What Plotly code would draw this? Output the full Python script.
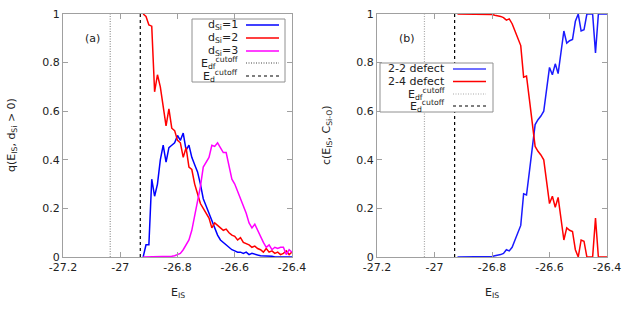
import plotly.graph_objects as go

# ---------------- data ----------------
E = [-26.92, -26.91, -26.90, -26.89, -26.88, -26.87, -26.86, -26.85, -26.84, -26.83,
     -26.82, -26.81, -26.80, -26.79, -26.78, -26.77, -26.76, -26.75, -26.74, -26.73,
     -26.72, -26.71, -26.70, -26.69, -26.68, -26.67, -26.66, -26.65, -26.64, -26.63,
     -26.62, -26.61, -26.60, -26.59, -26.58, -26.57, -26.56, -26.55, -26.54, -26.53,
     -26.52, -26.51, -26.50, -26.49, -26.48, -26.47, -26.46, -26.45, -26.44, -26.43,
     -26.42, -26.41, -26.40]

q_d1 = [0.0, 0.05, 0.05, 0.32, 0.25, 0.30, 0.40, 0.46, 0.39, 0.45,
        0.46, 0.47, 0.50, 0.48, 0.51, 0.44, 0.46, 0.41, 0.38, 0.35,
        0.30, 0.24, 0.21, 0.18, 0.15, 0.12, 0.09, 0.07, 0.06, 0.05,
        0.04, 0.03, 0.025, 0.02, 0.02, 0.015, 0.02, 0.01, 0.015, 0.01,
        0.008, 0.005, 0.005, 0.005, 0.002, 0.003, 0.0, 0.0, 0.0, 0.0,
        0.0, 0.0, 0.0]

q_d2 = [1.0, 0.99, 0.955, 0.95, 0.68, 0.75, 0.70, 0.62, 0.54, 0.61,
        0.53, 0.52, 0.48, 0.47, 0.41, 0.45, 0.37, 0.36, 0.30, 0.26,
        0.22, 0.20, 0.18, 0.16, 0.12, 0.14, 0.13, 0.12, 0.11, 0.115,
        0.10, 0.09, 0.085, 0.07, 0.08, 0.06, 0.055, 0.05, 0.04, 0.045,
        0.035, 0.03, 0.02, 0.035, 0.02, 0.025, 0.015, 0.02, 0.01, 0.015,
        0.025, 0.01, 0.02]

q_d3 = [0.0, 0.0, 0.0, 0.0, 0.0, 0.0, 0.0, 0.0, 0.0, 0.0,
        0.003, 0.005, 0.01, 0.015, 0.03, 0.05, 0.07, 0.11, 0.17, 0.22,
        0.29, 0.37, 0.39, 0.41, 0.46, 0.455, 0.47, 0.45, 0.43, 0.43,
        0.38, 0.32, 0.30, 0.27, 0.24, 0.21, 0.18, 0.14, 0.12, 0.135,
        0.11, 0.08, 0.06, 0.04, 0.05, 0.03, 0.04, 0.035, 0.04, 0.04,
        0.01, 0.03, 0.02]

c_22 = [0.0, 0.0, 0.0, 0.0, 0.0, 0.0, 0.0, 0.0, 0.0, 0.0,
        0.0, 0.0, 0.002, 0.005, 0.007, 0.01, 0.015, 0.03, 0.025, 0.04,
        0.07, 0.10, 0.13, 0.26, 0.255, 0.35, 0.45, 0.545, 0.565, 0.58,
        0.60, 0.70, 0.78, 0.75, 0.795, 0.755, 0.85, 0.93, 0.88, 0.89,
        0.895, 0.97, 1.0, 0.93, 0.935, 1.0, 1.0, 1.0, 0.84, 1.0,
        1.0, 1.0, 1.0]

c_24 = [1.0, 1.0, 1.0, 1.0, 1.0, 1.0, 1.0, 1.0, 1.0, 1.0,
        1.0, 1.0, 0.998, 0.995, 0.993, 0.99, 0.985, 0.975, 0.98, 0.96,
        0.93, 0.90, 0.87, 0.74, 0.745, 0.65, 0.55, 0.455, 0.435, 0.42,
        0.40, 0.30, 0.22, 0.25, 0.205, 0.245, 0.15, 0.07, 0.12, 0.11,
        0.105, 0.03, 0.0, 0.07, 0.065, 0.0, 0.0, 0.0, 0.16, 0.0,
        0.0, 0.0, 0.0]

E_df_cutoff = -27.035
E_d_cutoff = -26.93

x_ticks = [-27.2, -27.0, -26.8, -26.6, -26.4]
x_tick_text = ["-27.2", "-27", "-26.8", "-26.6", "-26.4"]
y_ticks = [0, 0.2, 0.4, 0.6, 0.8, 1.0]
y_tick_text = ["0", "0.2", "0.4", "0.6", "0.8", "1"]

# ---------------- layout helpers ----------------
W, H = 629, 314
FONT = "DejaVu Sans"
FS = 11
DOT = "1px,1.5px"
DASH = "3px,3px"


def px(x):
    return x / W


def py(y):
    return (H - y) / H


fig = go.Figure()

lw = 1.5
fig.add_trace(go.Scatter(x=E, y=q_d1, mode="lines", line=dict(color="#0000ff", width=lw),
                         xaxis="x", yaxis="y", showlegend=False))
fig.add_trace(go.Scatter(x=E, y=q_d2, mode="lines", line=dict(color="#ff0000", width=lw),
                         xaxis="x", yaxis="y", showlegend=False))
fig.add_trace(go.Scatter(x=E, y=q_d3, mode="lines", line=dict(color="#ff00ff", width=lw),
                         xaxis="x", yaxis="y", showlegend=False))
fig.add_trace(go.Scatter(x=E, y=c_22, mode="lines", line=dict(color="#1a1aff", width=lw),
                         xaxis="x2", yaxis="y2", showlegend=False))
fig.add_trace(go.Scatter(x=E, y=c_24, mode="lines", line=dict(color="#ff0000", width=lw),
                         xaxis="x2", yaxis="y2", showlegend=False))

# cutoff vertical lines
for xr, yr, dcol in (("x", "y", "#909090"), ("x2", "y2", "#a8a8a8")):
    fig.add_trace(go.Scatter(x=[E_df_cutoff, E_df_cutoff], y=[0, 1], mode="lines",
                             line=dict(color=dcol, width=1.2, dash=DOT),
                             xaxis=xr, yaxis=yr, showlegend=False))
    fig.add_trace(go.Scatter(x=[E_d_cutoff, E_d_cutoff], y=[0, 1], mode="lines",
                             line=dict(color="#000000", width=1.2, dash=DASH),
                             xaxis=xr, yaxis=yr, showlegend=False))

ydom = [py(257), py(14)]
axis_common = dict(showline=True, mirror="ticks", linecolor="#a0a0a0", linewidth=1,
                   ticks="inside", ticklen=5, tickcolor="#a0a0a0", showgrid=False,
                   zeroline=False, tickfont=dict(family=FONT, size=FS, color="#222"))

fig.update_layout(
    width=W, height=H,
    paper_bgcolor="white", plot_bgcolor="white",
    margin=dict(l=0, r=0, t=0, b=0, autoexpand=False),
    showlegend=False,
    font=dict(family=FONT, size=FS, color="#222"),
    xaxis=dict(domain=[px(63), px(292)], range=[-27.2, -26.4], tickvals=x_ticks,
               ticktext=x_tick_text, anchor="y", **axis_common),
    yaxis=dict(domain=ydom, range=[0, 1], tickvals=y_ticks, ticktext=y_tick_text,
               anchor="x", **axis_common),
    xaxis2=dict(domain=[px(377), px(607)], range=[-27.2, -26.4], tickvals=x_ticks,
                ticktext=x_tick_text, anchor="y2", **axis_common),
    yaxis2=dict(domain=ydom, range=[0, 1], tickvals=y_ticks, ticktext=y_tick_text,
                anchor="x2", **axis_common),
)

ann = []
shapes = []
tf = dict(family=FONT, size=FS, color="#222")


def note(x, y, text, xanchor="center", angle=0):
    ann.append(dict(x=px(x), y=py(y), xref="paper", yref="paper", text=text,
                    showarrow=False, font=tf, xanchor=xanchor, yanchor="middle",
                    textangle=angle))


# axis titles
note((63 + 292) / 2, 293, "E<sub>IS</sub>")
note((377 + 607) / 2, 293, "E<sub>IS</sub>")
note(12, 135, "q(E<sub>IS</sub>, d<sub>Si</sub> > 0)", angle=-90)
note(327, 135, "c(E<sub>IS</sub>, C<sub>Si-O</sub>)", angle=-90)
note(92, 39, "(a)")
note(407, 39, "(b)")


def legend(box, text_right, sx0, sx1, rows):
    x0, y0, x1, y1 = box
    shapes.append(dict(type="rect", xref="paper", yref="paper",
                       x0=px(x0), x1=px(x1), y0=py(y1), y1=py(y0),
                       fillcolor="white", line=dict(color="#909090", width=1),
                       layer="above"))
    for label, yrow, color, dash in rows:
        note(text_right, yrow, label, xanchor="right")
        shapes.append(dict(type="line", xref="paper", yref="paper",
                           x0=px(sx0), x1=px(sx1), y0=py(yrow), y1=py(yrow),
                           line=dict(color=color, width=1.5 if dash == "solid" else 1.2,
                                     dash=dash), layer="above"))


legend((192, 19, 285, 82), 240, 246, 279, [
    ("d<sub>Si</sub>=1", 25, "#0000ff", "solid"),
    ("d<sub>Si</sub>=2", 38, "#ff0000", "solid"),
    ("d<sub>Si</sub>=3", 51, "#ff00ff", "solid"),
    ("E<sub>df</sub><sup>cutoff</sup>", 63, "#444444", DOT),
    ("E<sub>d</sub><sup>cutoff</sup>", 76, "#000000", DASH),
])

legend((380, 63, 493, 112), 447, 453, 486, [
    ("2-2 defect", 69, "#4040ff", "solid"),
    ("2-4 defect", 81.5, "#ff0000", "solid"),
    ("E<sub>df</sub><sup>cutoff</sup>", 94, "#aaaaaa", DOT),
    ("E<sub>d</sub><sup>cutoff</sup>", 106, "#000000", DASH),
])

fig.update_layout(annotations=ann, shapes=shapes)
fig.write_html("out.html", config={"displayModeBar": False},
               post_script="document.body.style.margin='0px';")
